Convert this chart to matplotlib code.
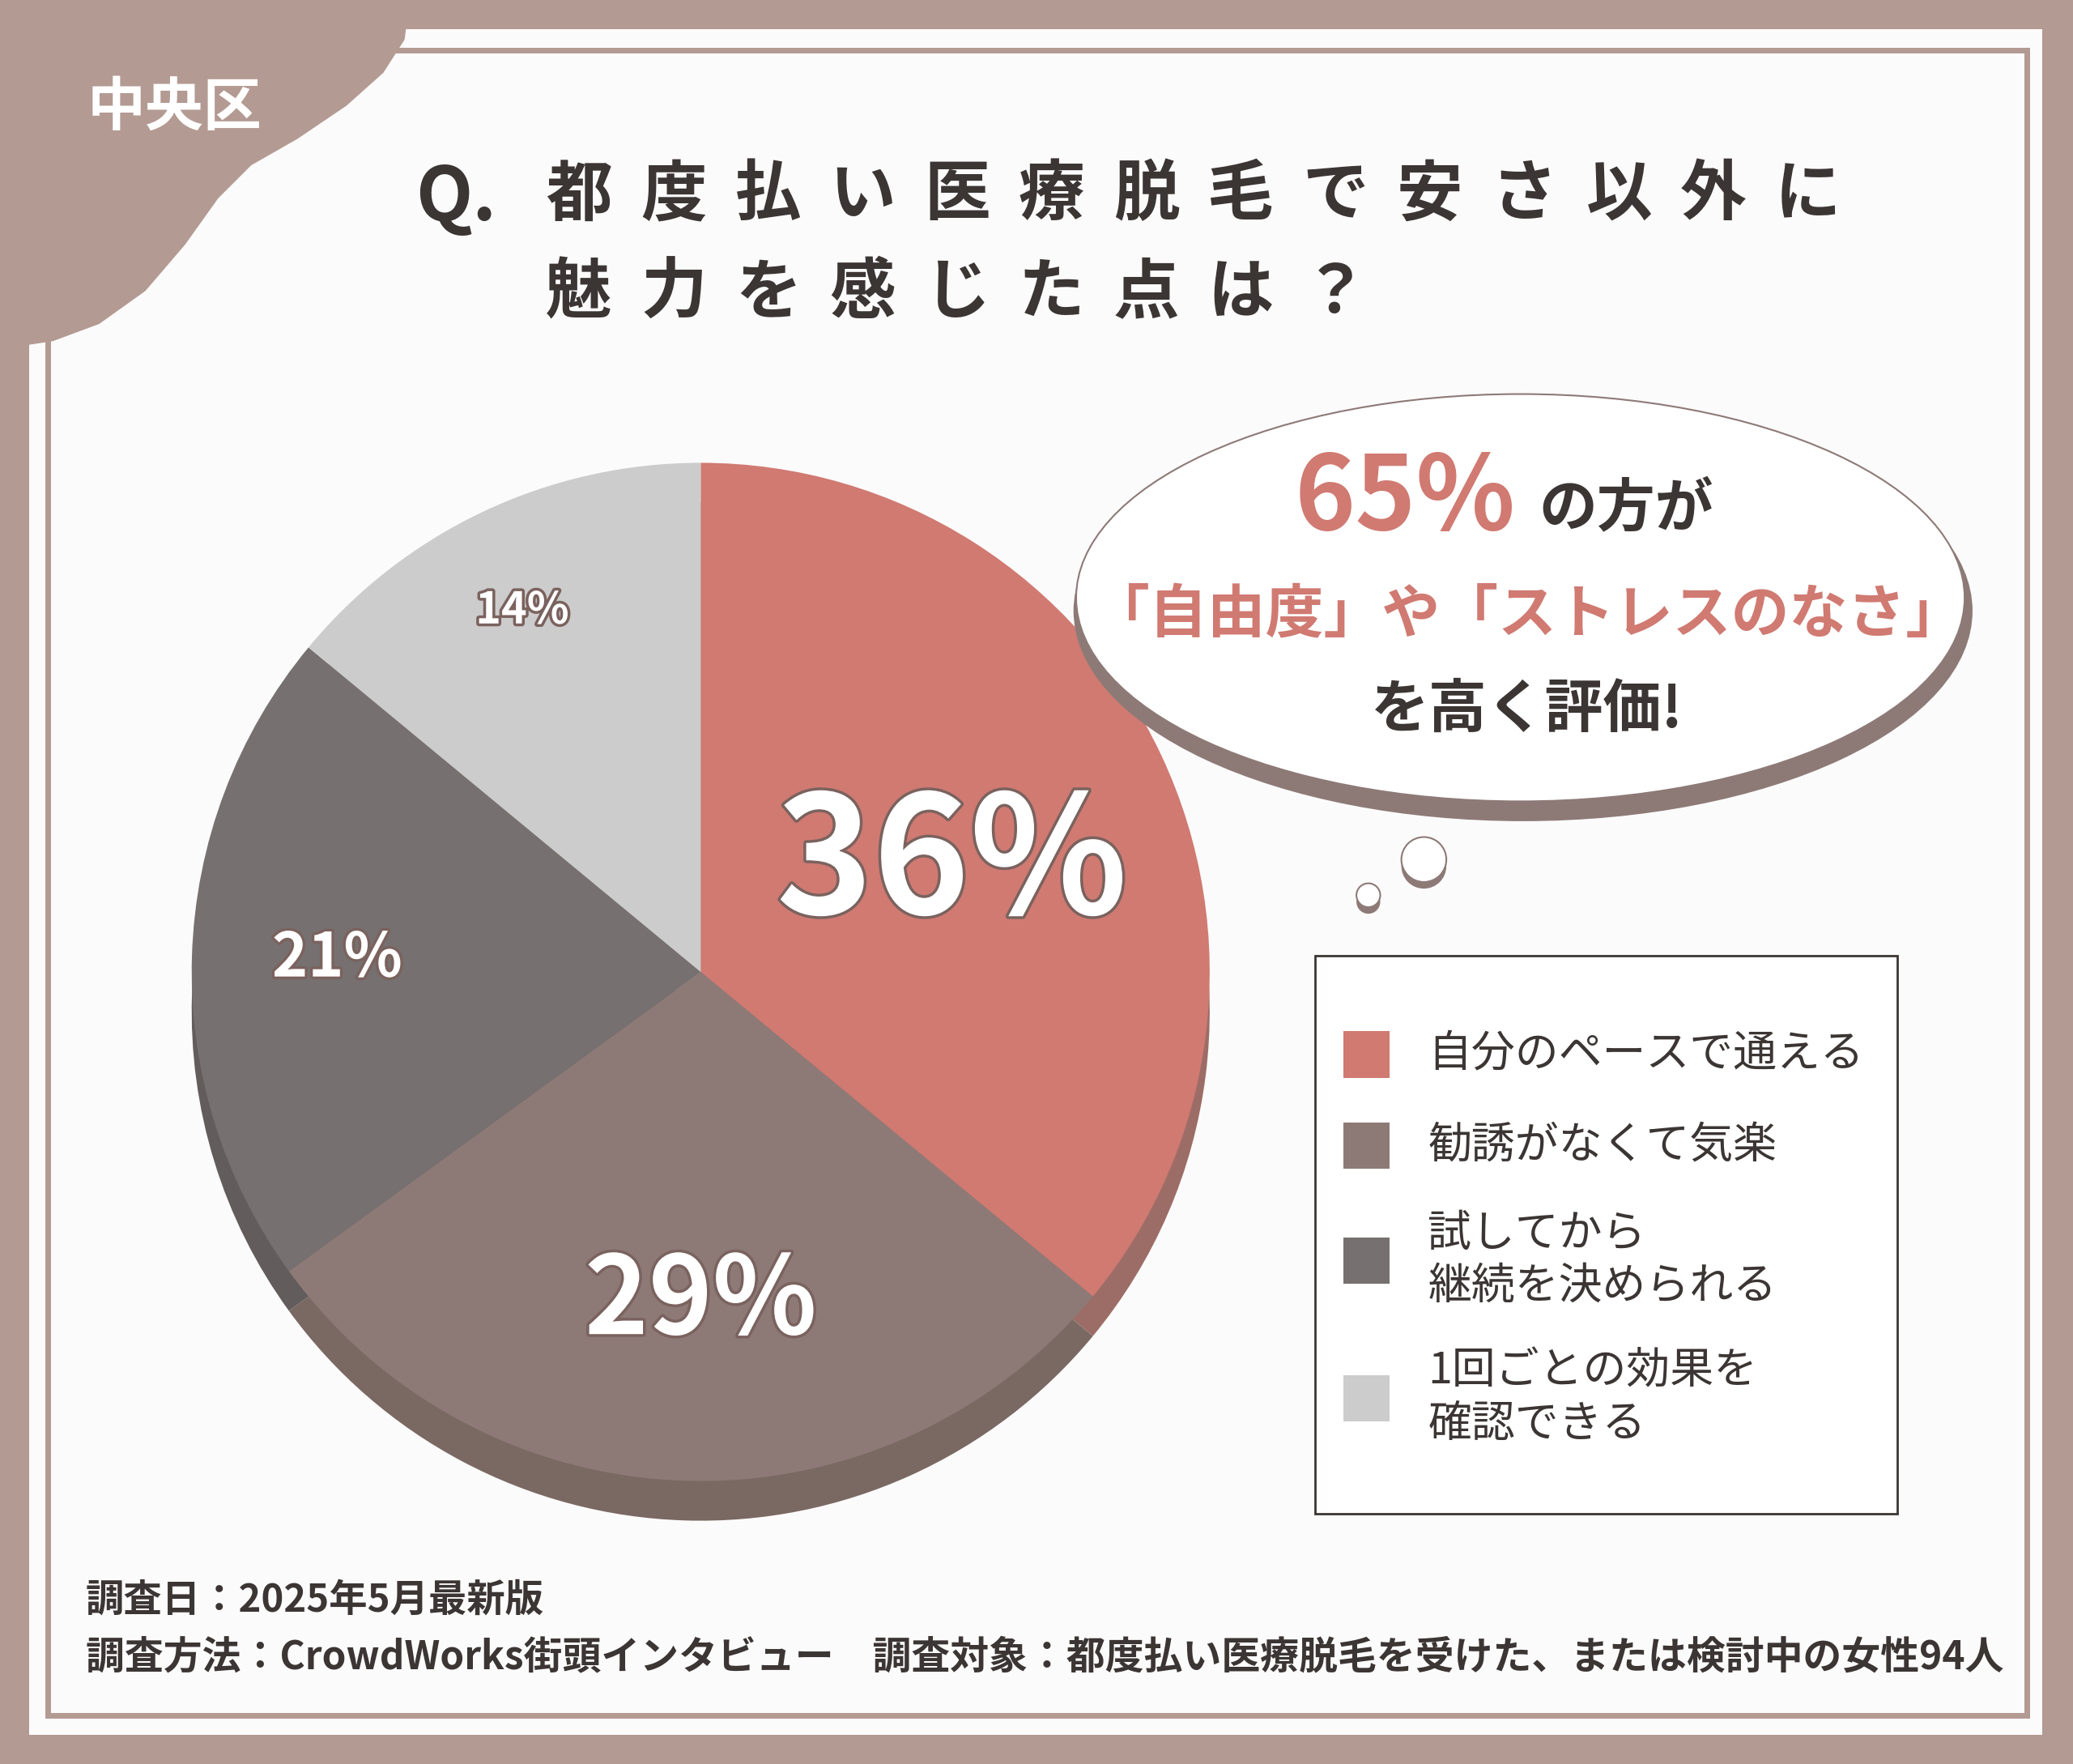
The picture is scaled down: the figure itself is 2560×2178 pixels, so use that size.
import matplotlib.pyplot as plt
import matplotlib.patheffects as pe
from matplotlib.patches import Rectangle, Polygon, Ellipse, Circle

W, H = 1568, 1334          # reference layout units
S = 2560 / W               # scale to output pixels
FONT = "Noto Sans CJK JP"

categories = ["自分のペースで通える", "勧誘がなくて気楽", "試してから\n継続を決められる", "1回ごとの効果を\n確認できる"]
values = [36, 29, 21, 14]
colors = ["#d07a72", "#8d7a77", "#767170", "#cdcccc"]
shadow_colors = ["#9c6d66", "#7a6863", "#625d5c", "#a9a6a5"]
pct_labels = ["36%", "29%", "21%", "14%"]
pct_pos = [(720, 655), (530, 985), (255, 725), (395, 462)]
pct_size = [124, 82, 46, 33]

title1 = "都度払い医療脱毛で安さ以外に"
title2 = "魅力を感じた点は？"
footer1 = "調査日：2025年5月最新版"
footer2 = "調査方法：CrowdWorks街頭インタビュー　調査対象：都度払い医療脱毛を受けた、または検討中の女性94人"


def fs(px):
    return px * S * 0.72


def Y(y):
    return H - y


fig = plt.figure(figsize=(25.6, 21.78), dpi=100)
fig.patch.set_facecolor("#b39a92")
ax = fig.add_axes([0, 0, 1, 1])

# frame
ax.add_patch(Rectangle((22, Y(1312)), 1523, 1290, fc="#fcfbfb", ec="none"))
ax.add_patch(Rectangle((36, Y(1297)), 1497, 1259, fc="none", ec="#b39a92", lw=5))
tab = [(0, 0), (310, 0), (306, 30), (290, 55), (262, 80), (225, 105), (190, 125),
       (165, 150), (140, 185), (110, 220), (75, 245), (40, 258), (0, 264)]
ax.add_patch(Polygon([(x, Y(y)) for x, y in tab], fc="#b39a92", ec="none"))
ax.text(132, Y(82), "中央区", fontsize=fs(44), color="white", fontweight="bold",
        family=FONT, ha="center", va="center")

# title
ax.text(345, Y(150), "Q.", fontsize=fs(56), color="#3b3534", fontweight="bold",
        family=FONT, ha="center", va="center")
for i, ch in enumerate(title1):
    ax.text(438 + i * 71.5, Y(148), ch, fontsize=fs(50), color="#3b3534",
            fontweight="bold", family=FONT, ha="center", va="center")
for i, ch in enumerate(title2):
    ax.text(438 + i * 71.5, Y(222), ch, fontsize=fs(50), color="#3b3534",
            fontweight="bold", family=FONT, ha="center", va="center")

# pie with depth
ax.pie(values, colors=shadow_colors, startangle=90, counterclock=False,
       center=(530, Y(765)), radius=385, frame=True)
ax.pie(values, colors=colors, startangle=90, counterclock=False,
       center=(530, Y(735)), radius=385, frame=True)
for lab, (x, y), s in zip(pct_labels, pct_pos, pct_size):
    ax.text(x, Y(y), lab, fontsize=fs(s), color="white", fontweight="bold",
            family=FONT, ha="center", va="center",
            path_effects=[pe.withStroke(linewidth=5, foreground="#7a625e")])

# thought bubble
ax.add_patch(Ellipse((1152, Y(462)), 680, 318, fc="#8d7a77", ec="none"))
ax.add_patch(Ellipse((1150, Y(452)), 672, 308, fc="white", ec="#8d7a77", lw=1.5))
for cx, cy, r in [(1077, 650, 17), (1035, 677, 9)]:
    ax.add_patch(Circle((cx, Y(cy + 5)), r, fc="#8d7a77", ec="none"))
    ax.add_patch(Circle((cx, Y(cy)), r, fc="white", ec="#8d7a77", lw=1.5))
ax.text(1063, Y(378), "65%", fontsize=fs(78), color="#d07a72", fontweight="bold",
        family=FONT, ha="center", va="center")
ax.text(1230, Y(385), "の方が", fontsize=fs(44), color="#3b3534", fontweight="bold",
        family=FONT, ha="center", va="center")
ax.text(1155, Y(465), "「自由度」や「ストレスのなさ」", fontsize=fs(44), color="#d07a72",
        fontweight="bold", family=FONT, ha="center", va="center")
ax.text(1155, Y(537), "を高く評価!", fontsize=fs(44), color="#3b3534",
        fontweight="bold", family=FONT, ha="center", va="center")

# legend
ax.add_patch(Rectangle((995, Y(1145)), 440, 422, fc="white", ec="#3b3534", lw=2))
leg_y = [797, 866, 953, 1057]
for c, lab, y in zip(colors, categories, leg_y):
    ax.add_patch(Rectangle((1016, Y(y + 18)), 35, 35, fc=c, ec="none"))
    ax.text(1080, Y(y), lab, fontsize=fs(33), color="#3b3534", family=FONT,
            ha="left", va="center", linespacing=1.25)

# footer
ax.text(65, Y(1210), footer1, fontsize=fs(29), color="#3b3534", fontweight="bold",
        family=FONT, ha="left", va="center")
ax.text(65, Y(1253), footer2, fontsize=fs(29.3), color="#3b3534", fontweight="bold",
        family=FONT, ha="left", va="center")

ax.set_xlim(0, W)
ax.set_ylim(0, H)
ax.set_aspect("auto")
ax.axis("off")
fig.savefig("out.png", dpi=100, facecolor=fig.get_facecolor())
